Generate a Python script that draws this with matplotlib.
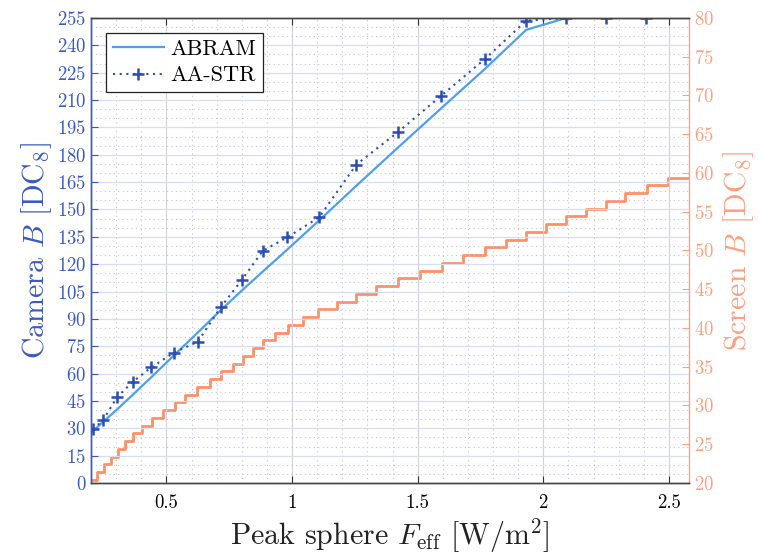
import numpy as np
import matplotlib
matplotlib.use("Agg")
import matplotlib.pyplot as plt
from matplotlib.ticker import MultipleLocator, FixedLocator

plt.rcParams['font.family'] = 'serif'
plt.rcParams['font.serif'] = ['cmr10']
plt.rcParams['mathtext.fontset'] = 'cm'
plt.rcParams['axes.formatter.use_mathtext'] = True

# AA-STR measurements (peak sphere F_eff, camera B)
aa_x = [0.208, 0.248, 0.305, 0.367, 0.440, 0.530, 0.625, 0.718, 0.800, 0.884,
        0.981, 1.108, 1.256, 1.422, 1.594, 1.767, 1.932, 2.091, 2.250, 2.410, 2.730]
aa_y = [29.4, 34.5, 47.3, 55.6, 63.4, 71.5, 77.5, 96.7, 111.3, 127.4,
        134.7, 145.7, 174.6, 192.5, 212.4, 232.4, 253.5, 255, 255, 255, 255]

# ABRAM prediction
ab_x = [0.2, 0.248, 0.305, 0.367, 0.440, 0.530, 0.625, 0.718, 0.800, 0.884,
        0.981, 1.108, 1.256, 1.422, 1.594, 1.767, 1.932, 2.091, 2.250, 2.410, 2.730]
ab_y = [27.5, 33.5, 40.5, 48.5, 58.0, 70.0, 82.5, 95.0, 105.5, 116.0,
        128.0, 144.0, 163.0, 184.0, 205.5, 227.0, 248.5, 255, 255, 255, 255]

# Screen B staircase (start of each level)
scr_x = [0.2, 0.225, 0.252, 0.278, 0.307, 0.336, 0.367, 0.403, 0.443, 0.486,
         0.533, 0.576, 0.623, 0.673, 0.719, 0.767, 0.806, 0.843, 0.885, 0.932,
         0.985, 1.043, 1.105, 1.178, 1.256, 1.336, 1.422, 1.508, 1.597, 1.680,
         1.767, 1.850, 1.932, 2.012, 2.091, 2.171, 2.250, 2.327, 2.412, 2.495, 2.600]
scr_y = [20.4, 21.4, 22.4, 23.4, 24.4, 25.4, 26.4, 27.4, 28.4, 29.4,
         30.4, 31.4, 32.4, 33.4, 34.4, 35.4, 36.4, 37.4, 38.4, 39.4,
         40.4, 41.4, 42.4, 43.4, 44.4, 45.4, 46.4, 47.4, 48.4, 49.4,
         50.4, 51.4, 52.4, 53.4, 54.4, 55.4, 56.4, 57.4, 58.4, 59.4, 59.4]

xticks = [0.5, 1, 1.5, 2, 2.5]
xtick_labels = ['0.5', '1', '1.5', '2', '2.5']

c_left = '#3b59c2'
c_abram = '#4da0ee'
c_aa = '#2b4db5'
c_orange = '#ff8f66'
c_right = '#ffa07e'

fig = plt.figure(figsize=(7.59, 5.57), dpi=100)
ax = fig.add_axes([0.1199, 0.1329, 0.7879, 0.8348])
ax2 = ax.twinx()

ax.plot(ab_x, ab_y, color=c_abram, lw=1.6, label='ABRAM')
ax.plot(aa_x, aa_y, color=c_aa, lw=1.5, ls=(0, (1, 2.2)), marker='+',
        markersize=9, markeredgewidth=1.8, label='AA-STR')
ax2.plot(scr_x, scr_y, color=c_orange, lw=2.0, drawstyle='steps-post')

ax.set_xlim(0.2, 2.58)
ax.set_ylim(0, 255)
ax2.set_ylim(20, 80)

ax.xaxis.set_major_locator(FixedLocator(xticks))
ax.set_xticklabels(xtick_labels)
ax.xaxis.set_minor_locator(MultipleLocator(0.1))
ax.yaxis.set_major_locator(MultipleLocator(15))
ax.yaxis.set_minor_locator(MultipleLocator(5))
ax2.yaxis.set_major_locator(MultipleLocator(5))

ax.grid(True, which='major', axis='x', color='#d2d2d8', lw=0.8)
ax.grid(True, which='major', axis='y', color='#d6def0', lw=0.9)
ax.grid(True, which='minor', color='#c4c4d6', lw=0.8, ls=(0, (1, 3)))

ax.tick_params(axis='x', which='major', direction='in', top=True, length=5,
               labelsize=13.5, color='#333333', pad=8)
ax.tick_params(axis='x', which='minor', length=0)
ax.tick_params(axis='y', which='major', direction='in', length=5,
               labelsize=13.5, colors=c_left)
ax.tick_params(axis='y', which='minor', length=0)
ax2.tick_params(axis='y', direction='in', length=5, labelsize=13.5, colors=c_right)

for s in ['top', 'bottom']:
    ax.spines[s].set_color('#444444')
    ax2.spines[s].set_color('#444444')
ax.spines['left'].set_color(c_left)
ax2.spines['left'].set_color(c_left)
ax2.spines['right'].set_color(c_right)
ax.spines['right'].set_visible(False)
for a in (ax, ax2):
    for s in a.spines.values():
        s.set_linewidth(1.0)

ax.set_xlabel(r'Peak sphere $F_{\mathrm{eff}}$ [W/m$^2$]', fontsize=21.5,
              color='#222222', labelpad=3)
ax.set_ylabel(r'Camera $B$ [DC$_8$]', fontsize=21.5, color=c_left, labelpad=2)
ax2.set_ylabel(r'Screen $B$ [DC$_8$]', fontsize=21.5, color=c_right, labelpad=5)

leg = ax.legend(loc='upper left', bbox_to_anchor=(0.025, 0.968), fontsize=16,
                fancybox=False, framealpha=1, edgecolor='#222222',
                borderpad=0.3, handlelength=2.3, handletextpad=0.3,
                labelspacing=0.3, borderaxespad=0)
leg.get_frame().set_linewidth(0.9)
ax.set_zorder(ax2.get_zorder() + 1)
ax.patch.set_visible(False)

fig.savefig('out.png', dpi=100)
